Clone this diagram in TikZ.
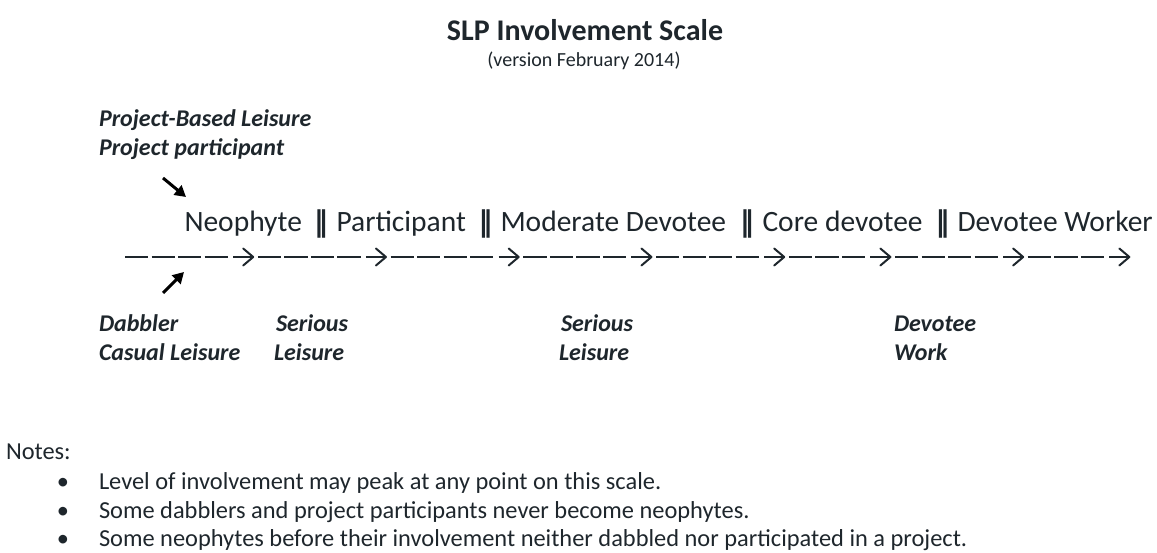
\documentclass[tikz,border=0pt]{standalone}
\usepackage{fontspec}
\setmainfont{Carlito}
\newfontfamily\dvs{DejaVu Sans}
\usetikzlibrary{arrows.meta}
\definecolor{ink}{RGB}{30,38,44}
\begin{document}
\begin{tikzpicture}[x=1pt,y=-1pt,
  txt/.style={inner sep=0pt,outer sep=0pt,text=ink,anchor=base west},
  row/.style={txt,font=\fontsize{29.5}{35}\selectfont},
  lab/.style={txt,font=\fontsize{24}{29}\selectfont\bfseries\itshape},
  note/.style={txt,font=\fontsize{24.4}{29}\selectfont},
  bar/.style={inner sep=0pt,outer sep=0pt,text=ink,anchor=base,font=\fontsize{28.5}{34}\selectfont\dvs\bfseries},
  ptr/.style={draw=black,line width=3pt,-{Triangle[length=11pt,width=12pt]}},
  dashseg/.style={draw=ink,line width=2pt},
]
\useasboundingbox (0,0) rectangle (1157,553);
% title
\node[txt,anchor=base,font=\fontsize{30}{36}\selectfont\bfseries] (title) at (585,41) {SLP Involvement Scale};
\node[txt,anchor=base,font=\fontsize{20}{24}\selectfont] (sub) at (584,67) {(version February 2014)};
% upper labels
\node[lab] (pbl) at (99,127) {Project-Based Leisure};
\node[lab] (pp) at (99,156) {Project participant};
% main row
\node[row] (neo) at (184.5,232) {Neophyte};
\node[bar] (b1) at (321,232) {‖};
\node[row] (par) at (336.5,232) {Participant};
\node[bar] (b2) at (485.5,232) {‖};
\node[row] (mod) at (500.5,232) {Moderate Devotee};
\node[bar] (b3) at (747,232) {‖};
\node[row] (core) at (762.5,232) {Core devotee};
\node[bar] (b4) at (942.5,232) {‖};
\node[row] (dw) at (957.5,232) {Devotee Worker};
% dashed scale line
\foreach \i in {0,1,2,3,5,6,7,8,10,11,12,13,15,16,17,18,20,21,22,23,25,26,27,29,30,31,32,34,35,36}
  {\draw[dashseg] ({125+26.55*\i},257) -- ({125+26.55*\i+23.3},257);}
\foreach \i in {4,9,14,19,24,28,33,37}
  {\draw[dashseg] ({125+26.55*\i+2},257) -- ({125+26.55*\i+22},257);
   \draw[dashseg,line join=round,line cap=round] ({125+26.55*\i+12},248.5) -- ({125+26.55*\i+22},257) -- ({125+26.55*\i+12},265.5);}
% pointer arrows
\coordinate (ua) at (163,178); \coordinate (ub) at (186,197);
\draw[ptr] (ua) -- (ub);
\coordinate (la) at (163,293); \coordinate (lb) at (184,272);
\draw[ptr] (la) -- (lb);
% lower labels
\node[lab] (dab) at (99,332) {Dabbler};
\node[lab] (cas) at (99,360) {Casual Leisure};
\node[lab] (ser1) at (276,332) {Serious};
\node[lab] (lei1) at (274,360) {Leisure};
\node[lab] (ser2) at (561,332) {Serious};
\node[lab] (lei2) at (559,360) {Leisure};
\node[lab] (dev) at (894,332) {Devotee};
\node[lab] (work) at (894,360) {Work};
% notes
\node[note] (notes) at (6,459) {Notes:};
\node[note,anchor=base] (bu1) at (63,489) {•};
\node[note,anchor=base] (bu2) at (63,518) {•};
\node[note,anchor=base] (bu3) at (63,546) {•};
\node[note] (n1) at (99,489) {Level of involvement may peak at any point on this scale.};
\node[note] (n2) at (99,518) {Some dabblers and project participants never become neophytes.};
\node[note] (n3) at (99,546) {Some neophytes before their involvement neither dabbled nor participated in a project.};
\end{tikzpicture}
\end{document}
